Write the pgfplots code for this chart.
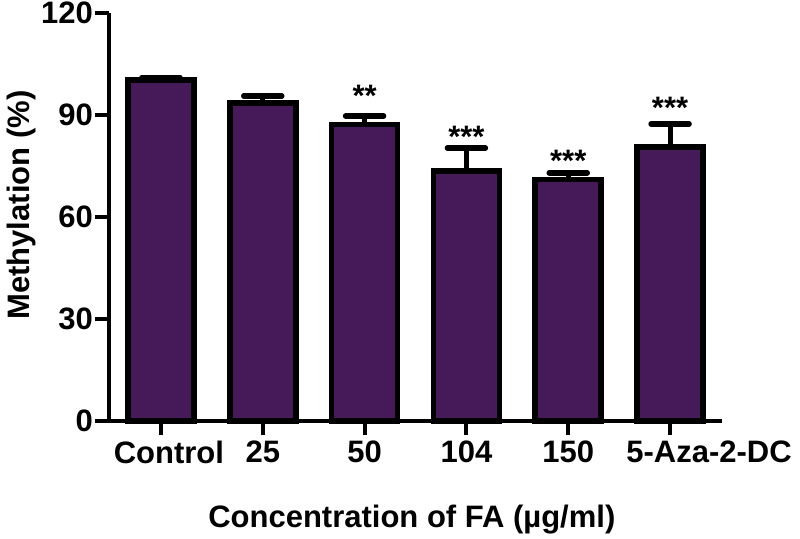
\documentclass[border=0pt]{standalone}
\usepackage{pgfplots}
\pgfplotsset{compat=1.18}
\usepackage{fontspec}
\setmainfont{Liberation Sans}
\definecolor{barpurple}{RGB}{70,26,88}
\newcommand{\lbl}{\fontsize{31bp}{36bp}\selectfont\bfseries}
\begin{document}
\begin{tikzpicture}
\useasboundingbox (0,0) rectangle (800bp,539bp);
\begin{axis}[
  at={(109bp,118bp)}, anchor=south west,
  scale only axis, width=613bp, height=408bp,
  xmin=-0.51, xmax=5.51, ymin=0, ymax=120,
  axis x line=bottom, axis y line=left,
  axis line style={line width=4bp, -},
  xtick={0,1,2,3,4,5},
  xticklabels={\hspace*{16bp}Control,25,50,104,150,\hspace*{78bp}5-Aza-2-DC},
  ytick={0,30,60,90,120},
  tick align=outside, major tick length=14bp,
  tick style={line width=4bp, black},
  /pgf/number format/assume math mode=true,
  ticklabel style={font=\lbl},
  yticklabel style={inner sep=2bp},
  xticklabel style={inner sep=2bp, yshift=-4bp},
  xlabel={Concentration of FA (µg/ml)},
  ylabel={Methylation (\%)},
  xlabel style={font=\lbl, at={(axis description cs:0.494,-0.26)}, anchor=base},
  ylabel style={font=\lbl, at={(axis description cs:-0.142,0.529)}, anchor=center},
  clip=false,
]
\addplot[ybar, bar width=66bp, bar shift=0pt, fill=barpurple, draw=black, line width=5.5bp,
  error bars/.cd, y dir=plus, y explicit,
  error bar style={line width=5bp, black},
  error mark options={rotate=90, line width=5.5bp, mark size=19bp, black, line cap=round}]
  coordinates {
  (0,100.3) +- (0,0.8)
  (1,93.6) +- (0,2.0)
  (2,87.2) +- (0,2.5)
  (3,73.5) +- (0,6.8)
  (4,71.0) +- (0,2.0)
  (5,80.6) +- (0,6.8)
};
\node[font=\lbl, anchor=base] at (axis cs:2,92.6) {**};
\node[font=\lbl, anchor=base] at (axis cs:3,80.5) {***};
\node[font=\lbl, anchor=base] at (axis cs:4,73.4) {***};
\node[font=\lbl, anchor=base] at (axis cs:5,89.0) {***};
\end{axis}
\end{tikzpicture}
\end{document}
